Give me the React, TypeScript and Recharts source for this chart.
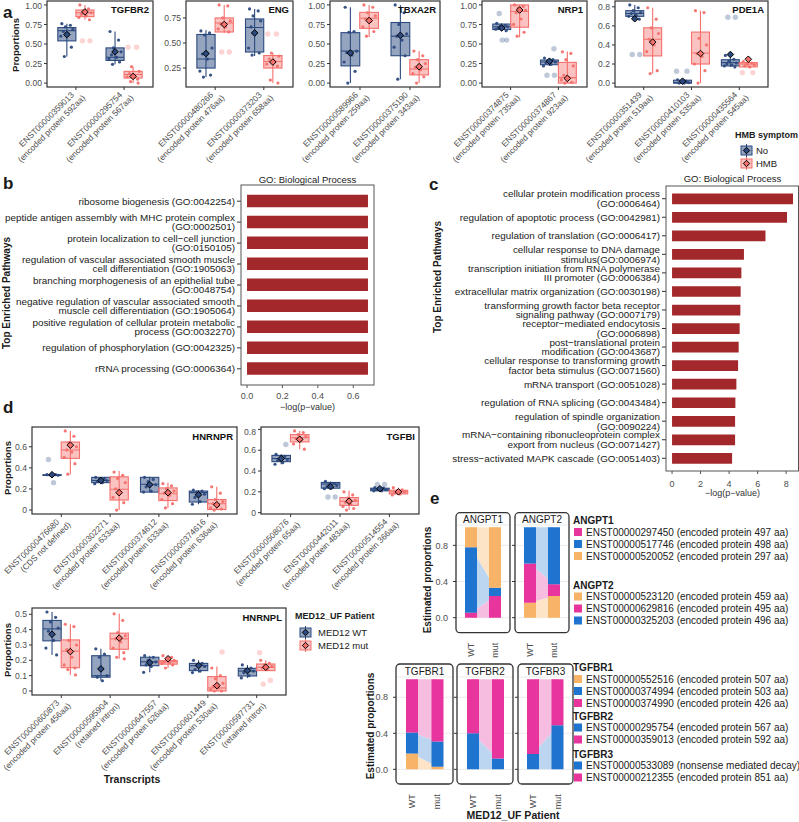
import React from "react";
import { ComposedChart, BarChart, Bar, Area, XAxis, YAxis, CartesianGrid } from "recharts";

const FONT = "'Liberation Sans', Arial, Helvetica, sans-serif";
const NAVY = "#2c4a7f";
const SALMON = "#f4706c";
const GO_RED = "#a3282b";
const MAG = "#e8349d";
const BLU = "#1f74cf";
const ORA = "#f7b469";
const LIGHT: Record<string, string> = { [MAG]: "#f6bde0", [BLU]: "#bcd5f0", [ORA]: "#fde4c6" };

// ---------- panel a: HMB symptom (box stats = [whiskerLo, q1, median, q3, whiskerHi, mean])
const TGFBR2_CATS = ["ENST00000359013\n(encoded protein 592aa)", "ENST00000295754\n(encoded protein 567aa)"];
const TGFBR2_NO_BOX = [[0.34, 0.54, 0.67, 0.71, 0.76, 0.62], [0.24, 0.29, 0.33, 0.45, 0.66, 0.4]];
const TGFBR2_HMB_BOX = [[0.81, 0.85, 0.9, 0.935, 1.0, 0.91], [0.0, 0.065, 0.11, 0.15, 0.21, 0.085]];
const TGFBR2_NO_PTS = [[0.76, 0.74, 0.72, 0.69, 0.66, 0.63, 0.6, 0.46, 0.34], [0.66, 0.55, 0.45, 0.4, 0.36, 0.33, 0.31, 0.27, 0.24]];
const TGFBR2_HMB_PTS = [[1.0, 0.95, 0.92, 0.9, 0.88, 0.86, 0.84, 0.81, 0.54, 0.54], [0.46, 0.46, 0.21, 0.15, 0.12, 0.1, 0.08, 0.05, 0.02, 0.0]];

const ENG_CATS = ["ENST00000480266\n(encoded protein 476aa)", "ENST00000373203\n(encoded protein 658aa)"];
const ENG_NO_BOX = [[0.16, 0.25, 0.34, 0.585, 0.63, 0.395], [0.37, 0.41, 0.655, 0.74, 0.84, 0.6]];
const ENG_HMB_BOX = [[0.6, 0.61, 0.7, 0.75, 0.88, 0.685], [0.1, 0.25, 0.315, 0.375, 0.4, 0.31]];
const ENG_NO_PTS = [[0.62, 0.6, 0.58, 0.45, 0.39, 0.34, 0.22, 0.18, 0.16], [0.84, 0.82, 0.77, 0.72, 0.66, 0.6, 0.45, 0.4, 0.38]];
const ENG_HMB_PTS = [[0.88, 0.87, 0.75, 0.72, 0.69, 0.66, 0.64, 0.61, 0.41, 0.41], [0.59, 0.59, 0.4, 0.37, 0.34, 0.32, 0.29, 0.27, 0.13, 0.1]];

const TBXA2R_CATS = ["ENST00000589966\n(encoded protein 259aa)", "ENST00000375190\n(encoded protein 343aa)"];
const TBXA2R_NO_BOX = [[0.0, 0.22, 0.41, 0.645, 0.97, 0.385], [0.05, 0.35, 0.6, 0.775, 1.0, 0.61]];
const TBXA2R_HMB_BOX = [[0.59, 0.7, 0.83, 0.905, 1.0, 0.8], [0.0, 0.105, 0.18, 0.3, 0.41, 0.21]];
const TBXA2R_NO_PTS = [[0.97, 0.66, 0.65, 0.41, 0.39, 0.36, 0.27, 0.15, 0.0], [1.0, 0.9, 0.75, 0.63, 0.6, 0.55, 0.46, 0.35, 0.05]];
const TBXA2R_HMB_PTS = [[1.0, 0.97, 0.9, 0.86, 0.82, 0.79, 0.72, 0.66, 0.6], [0.41, 0.35, 0.3, 0.25, 0.2, 0.17, 0.12, 0.08, 0.0]];

const NRP1_CATS = ["ENST00000374875\n(encoded protein 735aa)", "ENST00000374867\n(encoded protein 923aa)"];
const NRP1_NO_BOX = [[0.67, 0.685, 0.72, 0.755, 0.765, 0.705], [0.22, 0.235, 0.27, 0.295, 0.32, 0.28]];
const NRP1_HMB_BOX = [[0.585, 0.715, 0.915, 1.0, 1.0, 0.935], [0.0, 0.0, 0.07, 0.265, 0.405, 0.06]];
const NRP1_NO_PTS = [[0.765, 0.74, 0.73, 0.72, 0.71, 0.7, 0.69, 0.67, 0.89, 0.55, 0.55], [0.32, 0.3, 0.28, 0.27, 0.26, 0.24, 0.22, 0.44, 0.1, 0.1]];
const NRP1_HMB_PTS = [[1.0, 0.98, 0.96, 0.93, 0.9, 0.82, 0.75, 0.65, 0.6], [0.4, 0.38, 0.3, 0.22, 0.1, 0.07, 0.04, 0.01, 0.0]];

const PDE1A_CATS = ["ENST00000351439\n(encoded protein 519aa)", "ENST00000410103\n(encoded protein 535aa)", "ENST00000435564\n(encoded protein 545aa)"];
const PDE1A_NO_BOX = [[0.665, 0.7, 0.73, 0.76, 0.82, 0.675], [0.0, 0.0, 0.005, 0.03, 0.035, 0.02], [0.17, 0.18, 0.215, 0.245, 0.29, 0.3]];
const PDE1A_HMB_BOX = [[0.1, 0.285, 0.46, 0.58, 0.79, 0.43], [0.0, 0.2, 0.315, 0.535, 0.76, 0.31], [0.165, 0.17, 0.2, 0.215, 0.225, 0.25]];
const PDE1A_NO_PTS = [[0.82, 0.79, 0.76, 0.74, 0.73, 0.71, 0.7, 0.67, 0.3, 0.3], [0.035, 0.02, 0.01, 0.005, 0.0, 0.0, 0.125, 0.125], [0.29, 0.25, 0.23, 0.21, 0.2, 0.19, 0.18, 0.17, 0.69, 0.69]];
const PDE1A_HMB_PTS = [[0.79, 0.67, 0.58, 0.52, 0.46, 0.4, 0.33, 0.13, 0.1], [0.76, 0.74, 0.47, 0.4, 0.31, 0.28, 0.2, 0.13, 0.0], [0.225, 0.21, 0.2, 0.19, 0.18, 0.17, 0.11, 0.11]];

// ---------- panel b / c: GO enrichment
const B_TERMS = [
  "ribosome biogenesis (GO:0042254)",
  "peptide antigen assembly with MHC protein complex\n(GO:0002501)",
  "protein localization to cell\u2212cell junction\n(GO:0150105)",
  "regulation of vascular associated smooth muscle\ncell differentiation (GO:1905063)",
  "branching morphogenesis of an epithelial tube\n(GO:0048754)",
  "negative regulation of vascular associated smooth\nmuscle cell differentiation (GO:1905064)",
  "positive regulation of cellular protein metabolic\nprocess (GO:0032270)",
  "regulation of phosphorylation (GO:0042325)",
  "rRNA processing (GO:0006364)",
];
const B_VALUES = [0.683, 0.683, 0.683, 0.683, 0.683, 0.683, 0.683, 0.683, 0.683];

const C_TERMS = [
  "cellular protein modification process\n(GO:0006464)",
  "regulation of apoptotic process (GO:0042981)",
  "regulation of translation (GO:0006417)",
  "cellular response to DNA damage\nstimulus(GO:0006974)",
  "transcription initiation from RNA polymerase\nIII promoter (GO:0006384)",
  "extracellular matrix organization (GO:0030198)",
  "transforming growth factor beta receptor\nsignaling pathway (GO:0007179)",
  "receptor\u2212mediated endocytosis\n(GO:0006898)",
  "post\u2212translational protein\nmodification (GO:0043687)",
  "cellular response to transforming growth\nfactor beta stimulus (GO:0071560)",
  "mRNA transport (GO:0051028)",
  "regulation of RNA splicing (GO:0043484)",
  "regulation of spindle organization\n(GO:0090224)",
  "mRNA\u2212containing ribonucleoprotein complex\nexport from nucleus (GO:0071427)",
  "stress\u2212activated MAPK cascade (GO:0051403)",
];
const C_VALUES = [8.48, 8.06, 6.55, 5.04, 4.86, 4.81, 4.79, 4.74, 4.67, 4.63, 4.51, 4.44, 4.42, 4.42, 4.21];

// ---------- panel d: MED12 WT vs mut
const HNRNPR_CATS = ["ENST00000476680\n(CDS not defined)", "ENST00000302271\n(encoded protein 633aa)", "ENST00000374612\n(encoded protein 633aa)", "ENST00000374616\n(encoded protein 636aa)"];
const HNRNPR_WT_BOX = [[0.33, 0.33, 0.33, 0.335, 0.335, 0.335], [0.25, 0.26, 0.28, 0.31, 0.31, 0.28], [0.17, 0.17, 0.245, 0.31, 0.315, 0.24], [0.055, 0.076, 0.165, 0.18, 0.19, 0.145]];
const HNRNPR_MUT_BOX = [[0.34, 0.49, 0.57, 0.645, 0.75, 0.615], [0.0, 0.095, 0.197, 0.315, 0.37, 0.165], [0.02, 0.09, 0.155, 0.21, 0.26, 0.165], [0.0, 0.005, 0.06, 0.1, 0.22, 0.05]];
const HNRNPR_WT_PTS = [[0.335, 0.335, 0.33, 0.33, 0.48, 0.26], [0.31, 0.3, 0.29, 0.28, 0.27, 0.26, 0.25], [0.31, 0.29, 0.27, 0.24, 0.22, 0.18, 0.17], [0.19, 0.18, 0.17, 0.15, 0.12, 0.08, 0.055]];
const HNRNPR_MUT_PTS = [[0.75, 0.7, 0.64, 0.6, 0.57, 0.55, 0.5, 0.44, 0.34], [0.36, 0.33, 0.3, 0.26, 0.2, 0.17, 0.12, 0.07, 0.0], [0.25, 0.23, 0.2, 0.18, 0.16, 0.14, 0.1, 0.06, 0.02], [0.22, 0.16, 0.1, 0.08, 0.06, 0.04, 0.02, 0.01, 0.0]];

const TGFBI_CATS = ["ENST00000508076\n(encoded protein 65aa)", "ENST00000442011\n(encoded protein 483aa)", "ENST00000514554\n(encoded protein 366aa)"];
const TGFBI_WT_BOX = [[0.465, 0.49, 0.52, 0.55, 0.56, 0.52], [0.23, 0.235, 0.275, 0.29, 0.3, 0.25], [0.21, 0.21, 0.225, 0.235, 0.24, 0.23]];
const TGFBI_MUT_BOX = [[0.61, 0.68, 0.72, 0.75, 0.785, 0.705], [0.025, 0.07, 0.11, 0.145, 0.21, 0.11], [0.17, 0.18, 0.2, 0.215, 0.24, 0.2]];
const TGFBI_WT_PTS = [[0.56, 0.54, 0.52, 0.51, 0.5, 0.48, 0.465, 0.655], [0.3, 0.28, 0.27, 0.26, 0.25, 0.24, 0.23, 0.15, 0.15], [0.24, 0.235, 0.23, 0.22, 0.22, 0.21, 0.21, 0.27, 0.27]];
const TGFBI_MUT_PTS = [[0.785, 0.77, 0.75, 0.73, 0.71, 0.69, 0.66, 0.61], [0.2, 0.17, 0.14, 0.12, 0.1, 0.08, 0.06, 0.04, 0.025], [0.24, 0.22, 0.21, 0.2, 0.19, 0.18, 0.17]];

const HNRNPL_CATS = ["ENST00000600873\n(encoded protein 456aa)", "ENST00000595904\n(retained intron)", "ENST00000647557\n(encoded protein 626aa)", "ENST00000601449\n(encoded protein 530aa)", "ENST00000597731\n(retained intron)"];
const HNRNPL_WT_BOX = [[0.235, 0.327, 0.405, 0.46, 0.515, 0.37], [0.067, 0.09, 0.1, 0.23, 0.275, 0.144], [0.122, 0.165, 0.19, 0.22, 0.23, 0.185], [0.12, 0.133, 0.165, 0.18, 0.2, 0.166], [0.085, 0.098, 0.13, 0.148, 0.17, 0.133]];
const HNRNPL_MUT_BOX = [[0.105, 0.152, 0.26, 0.333, 0.435, 0.257], [0.21, 0.272, 0.34, 0.377, 0.503, 0.345], [0.15, 0.175, 0.19, 0.198, 0.23, 0.21], [0.0, 0.0, 0.02, 0.094, 0.16, 0.035], [0.133, 0.133, 0.155, 0.176, 0.2, 0.155]];
const HNRNPL_WT_PTS = [[0.515, 0.48, 0.45, 0.41, 0.39, 0.33, 0.28, 0.235], [0.275, 0.24, 0.22, 0.1, 0.09, 0.067], [0.23, 0.22, 0.2, 0.19, 0.17, 0.16, 0.122], [0.2, 0.18, 0.17, 0.16, 0.14, 0.13, 0.12], [0.17, 0.15, 0.14, 0.13, 0.12, 0.1, 0.085]];
const HNRNPL_MUT_PTS = [[0.435, 0.42, 0.33, 0.3, 0.27, 0.22, 0.17, 0.15, 0.14, 0.105], [0.503, 0.46, 0.38, 0.36, 0.34, 0.32, 0.28, 0.25, 0.22, 0.21], [0.23, 0.22, 0.21, 0.2, 0.19, 0.185, 0.18, 0.17, 0.15], [0.15, 0.1, 0.08, 0.05, 0.03, 0.02, 0.01, 0.0, 0.0, 0.255], [0.2, 0.18, 0.17, 0.16, 0.15, 0.14, 0.25, 0.07, 0.045]];

// ---------- panel e: estimated proportions (stack order = legend order, bottom first)
const GROUPS = ["WT", "mut"];
const ANGPT1_TX = ["ENST00000297450 (encoded protein 497 aa)", "ENST00000517746 (encoded protein 498 aa)", "ENST00000520052 (encoded protein 297 aa)"];
const ANGPT1_COL = [MAG, BLU, ORA];
const ANGPT1_WT = [0.055, 0.725, 0.22];
const ANGPT1_MUT = [0.24, 0.09, 0.67];
const ANGPT2_TX = ["ENST00000523120 (encoded protein 459 aa)", "ENST00000629816 (encoded protein 495 aa)", "ENST00000325203 (encoded protein 496 aa)"];
const ANGPT2_COL = [ORA, MAG, BLU];
const ANGPT2_WT = [0.165, 0.435, 0.4];
const ANGPT2_MUT = [0.24, 0.13, 0.63];
const TGFBR1_TX = ["ENST00000552516 (encoded protein 507 aa)", "ENST00000374994 (encoded protein 503 aa)", "ENST00000374990 (encoded protein 426 aa)"];
const TGFBR1_COL = [ORA, BLU, MAG];
const TGFBR1_WT = [0.175, 0.235, 0.59];
const TGFBR1_MUT = [0.03, 0.28, 0.69];
const TGFBR2E_TX = ["ENST00000295754 (encoded protein 567 aa)", "ENST00000359013 (encoded protein 592 aa)"];
const TGFBR2E_COL = [BLU, MAG];
const TGFBR2E_WT = [0.4, 0.6];
const TGFBR2E_MUT = [0.12, 0.88];
const TGFBR3_TX = ["ENST00000533089 (nonsense mediated decay)", "ENST00000212355 (encoded protein 851 aa)"];
const TGFBR3_COL = [BLU, MAG];
const TGFBR3_WT = [0.17, 0.83];
const TGFBR3_MUT = [0.49, 0.51];

const JIT = [-5, 3.5, -1.5, 6, -3.5, 1.5, -6, 4.5, -2.5, 5, 0.5];
const fmt2 = (v: number) => v.toFixed(2);
const fmt1 = (v: number) => v.toFixed(1);
const fmtD = (v: number) => (v === 0 ? "0" : String(v));

const diamond = (x: number, y: number, r: number) => `M${x},${y - r}L${x + r},${y}L${x},${y + r}L${x - r},${y}Z`;

function BoxGlyph(props: any) {
  const { x, y, width, height, payload, grp } = props;
  if (!payload || !height) return null;
  const st = payload[grp + "Box"], pts: number[] = payload[grp + "Pts"], rng = payload[grp];
  const k = height / (rng[1] - rng[0]);
  const Y = (v: number) => y + (rng[1] - v) * k;
  const cx = x + width / 2;
  const col = grp === "a" ? NAVY : SALMON;
  const [lo, q1, med, q3, hi, mean] = st;
  return (
    <g>
      <line x1={cx} x2={cx} y1={Y(hi)} y2={Y(lo)} stroke={col} strokeWidth={1.1} />
      <rect x={x} y={Y(q3)} width={width} height={Math.max(Y(q1) - Y(q3), 0.6)} fill={col} fillOpacity={grp === "a" ? 0.5 : 0.42} stroke={col} strokeWidth={1.1} />
      <line x1={x} x2={x + width} y1={Y(med)} y2={Y(med)} stroke={col} strokeWidth={1.1} />
      {pts.map((v, i) => {
        const out = v < lo - 1e-9 || v > hi + 1e-9;
        return <circle key={i} cx={cx + JIT[i % JIT.length] * (width / 18)} cy={Y(v)} r={out ? 2.7 : 1.6} fill={col} fillOpacity={out ? 0.3 : 0.95} />;
      })}
      <path d={diamond(cx, Y(mean), 3.3)} fill={col} stroke="#000" strokeWidth={1} />
    </g>
  );
}

function RotTick(props: any) {
  const { x, y, payload } = props;
  const [l1, l2] = String(payload.value).split("\n");
  return (
    <g transform={`translate(${x},${y}) rotate(-45)`}>
      <text textAnchor="end" fontSize={8.4} fill="#4d4d4d" fontFamily={FONT}>
        <tspan x={-3.5} dy={1.5}>{l1}</tspan>
        <tspan x={2.5} dy={10}>{l2}</tspan>
      </text>
    </g>
  );
}

type BoxProps = { fx: number; fy: number; fw: number; fh: number; cats: string[]; aBox: number[][]; bBox: number[][]; aPts: number[][]; bPts: number[][]; domain: [number, number]; ticks: number[]; fmt: (v: number) => string };

function BoxChart({ fx, fy, fw, fh, cats, aBox, bBox, aPts, bPts, domain, ticks, fmt }: BoxProps) {
  const u = fw / (cats.length + 0.2);
  const yW = 40;
  const data = cats.map((c, i) => ({
    cat: c,
    aBox: aBox[i], bBox: bBox[i], aPts: aPts[i], bPts: bPts[i],
    a: [Math.min(aBox[i][0], ...aPts[i]), Math.max(aBox[i][4], ...aPts[i])],
    b: [Math.min(bBox[i][0], ...bPts[i]), Math.max(bBox[i][4], ...bPts[i])],
  }));
  return (
    <div style={{ position: "absolute", left: fx - yW, top: fy }}>
      <ComposedChart width={yW + fw} height={fh + 90} data={data} margin={{ top: 0, right: 0, bottom: 0, left: 0 }} barGap={0}>
        <XAxis dataKey="cat" height={90} interval={0} padding={{ left: 0.1 * u, right: 0.1 * u }} tickSize={3} tickLine={{ stroke: "#333" }} axisLine={false} tick={<RotTick />} />
        <YAxis type="number" domain={domain} allowDataOverflow ticks={ticks} tickFormatter={fmt} width={yW} tickSize={3} tickLine={{ stroke: "#333" }} axisLine={false} tick={{ fontSize: 8.6, fill: "#4d4d4d", fontFamily: FONT }} />
        <Bar dataKey="a" barSize={0.375 * u} isAnimationActive={false} shape={(p: any) => <BoxGlyph {...p} grp="a" />} />
        <Bar dataKey="b" barSize={0.375 * u} isAnimationActive={false} shape={(p: any) => <BoxGlyph {...p} grp="b" />} />
      </ComposedChart>
    </div>
  );
}

function TermTick(props: any) {
  const { x, y, payload } = props;
  const lines = String(payload.value).split("\n");
  const off = lines.length === 1 ? [3.5] : [-1.3, 8.3];
  return (
    <text textAnchor="end" fontSize={9.9} fill="#1a1a1a" fontFamily={FONT}>
      {lines.map((l, i) => <tspan key={i} x={x} y={y + off[i]}>{l}</tspan>)}
    </text>
  );
}

type GoProps = { left: number; fx: number; fy: number; fw: number; fh: number; terms: string[]; values: number[]; domain: [number, number]; ticks: number[]; fmt: (v: number) => string; pad: number; barSize: number; tickGap: number };

function GoChart({ left, fx, fy, fw, fh, terms, values, domain, ticks, fmt, pad, barSize, tickGap }: GoProps) {
  const data = terms.map((t, i) => ({ term: t, v: values[i] }));
  const yW = fx - left;
  return (
    <div style={{ position: "absolute", left, top: fy }}>
      <BarChart layout="vertical" width={yW + fw} height={fh + 30} data={data} margin={{ top: 0, right: 0, bottom: 0, left: 0 }}>
        <XAxis type="number" domain={domain} allowDataOverflow ticks={ticks} tickFormatter={fmt} height={30} tickSize={3} tickMargin={tickGap} tickLine={{ stroke: "#555" }} axisLine={false} tick={{ fontSize: 9, fill: "#4d4d4d", fontFamily: FONT }} />
        <YAxis type="category" dataKey="term" width={yW} interval={0} padding={{ top: pad, bottom: pad }} tickSize={4} tickLine={{ stroke: "#333" }} axisLine={false} tick={<TermTick />} />
        <Bar dataKey="v" fill={GO_RED} barSize={barSize} isAnimationActive={false} />
      </BarChart>
    </div>
  );
}

function VTick(props: any) {
  const { x, y, payload } = props;
  return (
    <g transform={`translate(${x + 3.2},${y + 2})`}>
      <text transform="rotate(-90)" textAnchor="end" fontSize={9} fill="#4d4d4d" fontFamily={FONT}>
        {payload.value}
      </text>
    </g>
  );
}

type AlluvProps = { fx: number; fy: number; fw: number; fh: number; cols: string[]; wt: number[]; mut: number[]; labels: boolean };

function Alluvial({ fx, fy, fw, fh, cols, wt, mut, labels }: AlluvProps) {
  const yW = labels ? 30 : 8;
  const data = GROUPS.map((g, gi) => {
    const row: any = { g };
    cols.forEach((_, si) => { row["s" + si] = gi === 0 ? wt[si] : mut[si]; });
    return row;
  });
  return (
    <div style={{ position: "absolute", left: fx - yW, top: fy }}>
      <ComposedChart width={yW + fw} height={fh + 24} data={data} margin={{ top: 0, right: 0, bottom: 0, left: 0 }}>
        <CartesianGrid vertical={false} stroke="#ebebeb" />
        <XAxis dataKey="g" height={24} interval={0} padding={{ left: 3, right: 3 }} tickLine={false} axisLine={false} tick={<VTick />} />
        <YAxis type="number" domain={[-0.166, 1.025]} allowDataOverflow ticks={[0, 0.4, 0.8]} tickFormatter={labels ? fmt1 : () => ""} width={yW} tickSize={3} tickMargin={5} tickLine={{ stroke: "#333" }} axisLine={false} tick={{ fontSize: 9, fill: "#4d4d4d", fontFamily: FONT }} />
        {cols.map((c, i) => (
          <Area key={"r" + i} dataKey={"s" + i} stackId="r" type="linear" fill={LIGHT[c]} fillOpacity={1} stroke="none" dot={false} activeDot={false} isAnimationActive={false} />
        ))}
        {cols.map((c, i) => (
          <Bar key={"b" + i} dataKey={"s" + i} stackId="b" fill={c} barSize={12} isAnimationActive={false} />
        ))}
      </ComposedChart>
    </div>
  );
}

const T = ({ x, y, s = 9.5, b = false, a = "start", r = 0, f = "#1a1a1a", children }: any) => (
  <text x={x} y={y} fontSize={s} fontWeight={b ? 700 : 400} textAnchor={a} fill={f} fontFamily={FONT} transform={r ? `rotate(${r},${x},${y})` : undefined}>
    {children}
  </text>
);

// layout of plot frames
const A_Y = 1, A_H = 86;
const A_FR = [
  { fx: 47, fw: 106, title: "TGFBR2" },
  { fx: 186, fw: 107, title: "ENG" },
  { fx: 330, fw: 110, title: "TBXA2R" },
  { fx: 482, fw: 105, title: "NRP1" },
  { fx: 615, fw: 153, title: "PDE1A" },
];
const D_FR = [
  { fx: 32, fy: 427, fw: 205, fh: 87, title: "HNRNPR" },
  { fx: 261, fy: 427, fw: 158, fh: 87, title: "TGFBI" },
  { fx: 32, fy: 608, fw: 254, fh: 87, title: "HNRNPL" },
];
const B_FR = { fx: 241, fy: 185, fw: 133, fh: 200 };
const C_FR = { fx: 666, fy: 186, fw: 133, fh: 285 };
const E_TOP = { st: 512.7, fy: 525, fh: 107.7 };
const E_BOT = { st: 664, fy: 676.7, fh: 107.3 };
const E_FACETS = [
  { fx: 456, fw: 54, row: E_TOP, title: "ANGPT1", cols: ANGPT1_COL, wt: ANGPT1_WT, mut: ANGPT1_MUT, labels: true },
  { fx: 515, fw: 54, row: E_TOP, title: "ANGPT2", cols: ANGPT2_COL, wt: ANGPT2_WT, mut: ANGPT2_MUT, labels: false },
  { fx: 396, fw: 57, row: E_BOT, title: "TGFBR1", cols: TGFBR1_COL, wt: TGFBR1_WT, mut: TGFBR1_MUT, labels: true },
  { fx: 457, fw: 56, row: E_BOT, title: "TGFBR2", cols: TGFBR2E_COL, wt: TGFBR2E_WT, mut: TGFBR2E_MUT, labels: false },
  { fx: 518, fw: 55, row: E_BOT, title: "TGFBR3", cols: TGFBR3_COL, wt: TGFBR3_WT, mut: TGFBR3_MUT, labels: false },
];
const E_LEG = [
  { title: "ANGPT1", y: 524, tx: ANGPT1_TX, cols: ANGPT1_COL },
  { title: "ANGPT2", y: 588.5, tx: ANGPT2_TX, cols: ANGPT2_COL },
  { title: "TGFBR1", y: 671, tx: TGFBR1_TX, cols: TGFBR1_COL },
  { title: "TGFBR2", y: 719.5, tx: TGFBR2E_TX, cols: TGFBR2E_COL },
  { title: "TGFBR3", y: 757.5, tx: TGFBR3_TX, cols: TGFBR3_COL },
];

function LegendKey({ x, y, col, op }: any) {
  return (
    <g>
      <line x1={x + 5.5} x2={x + 5.5} y1={y - 2} y2={y + 11} stroke={col} strokeWidth={1} />
      <rect x={x} y={y} width={11} height={9} fill={col} fillOpacity={op} stroke={col} strokeWidth={1} />
      <path d={diamond(x + 5.5, y + 4.5, 3.2)} fill={col} stroke="#000" strokeWidth={1} />
    </g>
  );
}

function Overlay() {
  return (
    <svg width={799} height={822} style={{ position: "absolute", left: 0, top: 0, pointerEvents: "none" }}>
      {/* panel letters */}
      <T x={3} y={18} s={17} b>a</T>
      <T x={3} y={189} s={17} b>b</T>
      <T x={429} y={190} s={17} b>c</T>
      <T x={3} y={413} s={17} b>d</T>
      <T x={430} y={504} s={17} b>e</T>

      {/* panel a */}
      {A_FR.map((f) => (
        <g key={f.title}>
          <rect x={f.fx} y={A_Y} width={f.fw} height={A_H} fill="none" stroke="#333" strokeWidth={1.2} />
          <T x={f.fx + f.fw - 4} y={A_Y + 12} s={9.5} b a="end" f="#111">{f.title}</T>
        </g>
      ))}
      <T x={18.5} y={45} s={9.5} b a="middle" r={-90}>Proportions</T>
      <T x={735} y={138} s={9} b>HMB symptom</T>
      <LegendKey x={741} y={146} col={NAVY} op={0.5} />
      <LegendKey x={741} y={159} col={SALMON} op={0.42} />
      <T x={756} y={153.5} s={9.5}>No</T>
      <T x={756} y={166.5} s={9.5}>HMB</T>

      {/* panel b */}
      <rect x={B_FR.fx} y={B_FR.fy} width={B_FR.fw} height={B_FR.fh} fill="none" stroke="#555" strokeWidth={1} />
      <T x={B_FR.fx + B_FR.fw / 2} y={183} s={9.5} a="middle">GO: Biological Process</T>
      <T x={B_FR.fx + B_FR.fw / 2} y={410} s={9} a="middle" f="#333">{"\u2212log(p\u2212value)"}</T>
      <T x={9.5} y={293} s={10} b a="middle" r={-90}>Top Enriched Pathways</T>

      {/* panel c */}
      <rect x={C_FR.fx} y={C_FR.fy} width={C_FR.fw - 0.5} height={C_FR.fh} fill="none" stroke="#555" strokeWidth={1} />
      <T x={C_FR.fx + C_FR.fw / 2} y={182} s={9.5} a="middle">GO: Biological Process</T>
      <T x={C_FR.fx + C_FR.fw / 2} y={496} s={9} a="middle" f="#333">{"\u2212log(p\u2212value)"}</T>
      <T x={440.5} y={277} s={10} b a="middle" r={-90}>Top Enriched Pathways</T>

      {/* panel d */}
      {D_FR.map((f) => (
        <g key={f.title}>
          <rect x={f.fx} y={f.fy} width={f.fw} height={f.fh} fill="none" stroke="#333" strokeWidth={1.2} />
          <T x={f.fx + f.fw - 4} y={f.fy + 13} s={9.5} b a="end" f="#111">{f.title}</T>
        </g>
      ))}
      <T x={11} y={468} s={9.5} b a="middle" r={-90}>Proportions</T>
      <T x={11} y={650} s={9.5} b a="middle" r={-90}>Proportions</T>
      <T x={132} y={783} s={10.5} b a="middle">Transcripts</T>
      <T x={295} y={619} s={9} b>MED12_UF Patient</T>
      <LegendKey x={300} y={628} col={NAVY} op={0.5} />
      <LegendKey x={300} y={641} col={SALMON} op={0.42} />
      <T x={318} y={635.5} s={9.5}>MED12 WT</T>
      <T x={318} y={648.5} s={9.5}>MED12 mut</T>

      {/* panel e */}
      {E_FACETS.map((f) => (
        <g key={f.title + f.fx}>
          <rect x={f.fx} y={f.row.st} width={f.fw} height={f.row.fy + f.row.fh - f.row.st} rx={4} fill="none" stroke="#333" strokeWidth={1.3} />
          <T x={f.fx + f.fw / 2} y={f.row.st + 10.5} s={10} a="middle">{f.title}</T>
        </g>
      ))}
      <T x={430.5} y={580} s={10} b a="middle" r={-90}>Estimated proportions</T>
      <T x={373.5} y={726} s={10} b a="middle" r={-90}>Estimated proportions</T>
      <T x={513} y={819} s={10.5} b a="middle">MED12_UF Patient</T>
      {E_LEG.map((g) => (
        <g key={g.title}>
          <T x={573} y={g.y} s={10} b>{g.title}</T>
          {g.tx.map((t, i) => (
            <g key={t}>
              <rect x={574} y={g.y + 4 + i * 12} width={8} height={8} fill={g.cols[i]} />
              <T x={586} y={g.y + 11.5 + i * 12} s={10}>{t}</T>
            </g>
          ))}
        </g>
      ))}
    </svg>
  );
}

export default function App() {
  return (
    <div style={{ position: "absolute", left: 0, top: 0, width: 799, height: 822, background: "#fff", overflow: "hidden", fontFamily: FONT }}>
      <style>{`.recharts-surface{overflow:visible}`}</style>
      {/* a */}
      <BoxChart fx={A_FR[0].fx} fy={A_Y} fw={A_FR[0].fw} fh={A_H} cats={TGFBR2_CATS} aBox={TGFBR2_NO_BOX} bBox={TGFBR2_HMB_BOX} aPts={TGFBR2_NO_PTS} bPts={TGFBR2_HMB_PTS} domain={[-0.05, 1.05]} ticks={[0, 0.25, 0.5, 0.75, 1]} fmt={fmt2} />
      <BoxChart fx={A_FR[1].fx} fy={A_Y} fw={A_FR[1].fw} fh={A_H} cats={ENG_CATS} aBox={ENG_NO_BOX} bBox={ENG_HMB_BOX} aPts={ENG_NO_PTS} bPts={ENG_HMB_PTS} domain={[0.061, 0.919]} ticks={[0.25, 0.5, 0.75]} fmt={fmt2} />
      <BoxChart fx={A_FR[2].fx} fy={A_Y} fw={A_FR[2].fw} fh={A_H} cats={TBXA2R_CATS} aBox={TBXA2R_NO_BOX} bBox={TBXA2R_HMB_BOX} aPts={TBXA2R_NO_PTS} bPts={TBXA2R_HMB_PTS} domain={[-0.05, 1.05]} ticks={[0, 0.25, 0.5, 0.75, 1]} fmt={fmt2} />
      <BoxChart fx={A_FR[3].fx} fy={A_Y} fw={A_FR[3].fw} fh={A_H} cats={NRP1_CATS} aBox={NRP1_NO_BOX} bBox={NRP1_HMB_BOX} aPts={NRP1_NO_PTS} bPts={NRP1_HMB_PTS} domain={[-0.05, 1.05]} ticks={[0, 0.25, 0.5, 0.75, 1]} fmt={fmt2} />
      <BoxChart fx={A_FR[4].fx} fy={A_Y} fw={A_FR[4].fw} fh={A_H} cats={PDE1A_CATS} aBox={PDE1A_NO_BOX} bBox={PDE1A_HMB_BOX} aPts={PDE1A_NO_PTS} bPts={PDE1A_HMB_PTS} domain={[-0.041, 0.861]} ticks={[0, 0.2, 0.4, 0.6, 0.8]} fmt={fmt1} />
      {/* b, c */}
      <GoChart left={0} {...B_FR} terms={B_TERMS} values={B_VALUES} domain={[-0.034, 0.717]} ticks={[0, 0.2, 0.4, 0.6]} fmt={fmt1} pad={5.7} barSize={12.5} tickGap={5} />
      <GoChart left={440} {...C_FR} terms={C_TERMS} values={C_VALUES} domain={[-0.424, 8.9]} ticks={[0, 2, 4, 6, 8]} fmt={(v: number) => String(v)} pad={3.45} barSize={10.7} tickGap={7} />
      {/* d */}
      <BoxChart fx={D_FR[0].fx} fy={D_FR[0].fy} fw={D_FR[0].fw} fh={D_FR[0].fh} cats={HNRNPR_CATS} aBox={HNRNPR_WT_BOX} bBox={HNRNPR_MUT_BOX} aPts={HNRNPR_WT_PTS} bPts={HNRNPR_MUT_PTS} domain={[-0.0375, 0.7875]} ticks={[0, 0.2, 0.4, 0.6]} fmt={fmtD} />
      <BoxChart fx={D_FR[1].fx} fy={D_FR[1].fy} fw={D_FR[1].fw} fh={D_FR[1].fh} cats={TGFBI_CATS} aBox={TGFBI_WT_BOX} bBox={TGFBI_MUT_BOX} aPts={TGFBI_WT_PTS} bPts={TGFBI_MUT_PTS} domain={[-0.013, 0.823]} ticks={[0, 0.2, 0.4, 0.6, 0.8]} fmt={fmtD} />
      <BoxChart fx={D_FR[2].fx} fy={D_FR[2].fy} fw={D_FR[2].fw} fh={D_FR[2].fh} cats={HNRNPL_CATS} aBox={HNRNPL_WT_BOX} bBox={HNRNPL_MUT_BOX} aPts={HNRNPL_WT_PTS} bPts={HNRNPL_MUT_PTS} domain={[-0.026, 0.541]} ticks={[0, 0.1, 0.2, 0.3, 0.4, 0.5]} fmt={fmtD} />
      {/* e */}
      {E_FACETS.map((f) => (
        <Alluvial key={f.title + f.fx} fx={f.fx} fy={f.row.fy} fw={f.fw} fh={f.row.fh} cols={f.cols} wt={f.wt} mut={f.mut} labels={f.labels} />
      ))}
      <Overlay />
    </div>
  );
}
